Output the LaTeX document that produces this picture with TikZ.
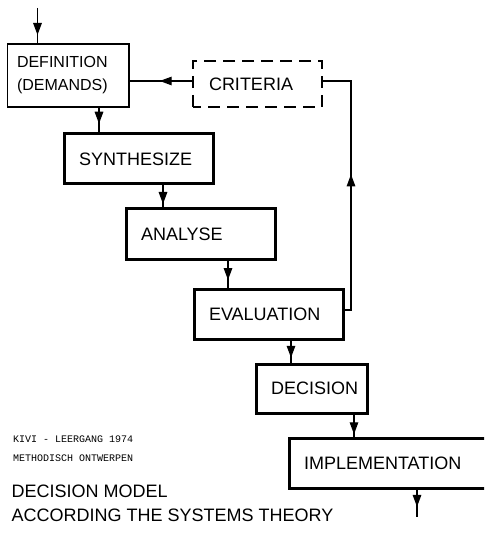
\documentclass[tikz,border=0pt]{standalone}
\usepackage{fontspec}
\setmainfont{Liberation Sans}
\newfontfamily\typewriter{Liberation Mono}
\usetikzlibrary{arrows.meta,decorations.markings}

\begin{document}
\begin{tikzpicture}[x=1pt,y=-1pt,
  box/.style={draw, rectangle, anchor=north west, outer sep=0pt,
    inner xsep=15pt, inner ysep=0pt, align=left,
    font=\fontsize{18}{21}\selectfont},
  thickbox/.style={box, line width=3pt},
  flow/.style={line width=1.4pt},
  arrowat/.style={postaction={decorate}, decoration={markings,
    mark=at position #1 with {\arrow{Triangle[length=12pt,width=8.5pt]}}}},
  caption/.style={anchor=west, inner sep=0pt, font=\fontsize{18}{21}\selectfont},
  note/.style={anchor=west, inner sep=0pt, font=\typewriter\fontsize{10}{12}\selectfont},
]
% page frame
\fill[white] (0,0) rectangle (484,534);
\useasboundingbox (0,0) rectangle (484,534);
\clip (0,0) rectangle (484,534);

% process boxes
\node[box, line width=1.8pt, inner xsep=9.5pt, text width=102.5pt,
  minimum height=63pt, font=\fontsize{16}{23}\selectfont]
  (def) at (7.5,44) {DEFINITION\\(DEMANDS)};
\node[box, line width=1.8pt, dash pattern=on 12pt off 7pt, dash phase=4pt,
  inner xsep=16pt, text width=97pt, minimum height=46pt]
  (crit) at (193,61) {CRITERIA};
\node[thickbox, text width=119pt, minimum height=50pt] (synth) at (64,134) {SYNTHESIZE};
\node[thickbox, text width=119pt, minimum height=50pt] (anal) at (126,209) {ANALYSE};
\node[thickbox, text width=119pt, minimum height=50pt] (eval) at (194,289) {EVALUATION};
\node[thickbox, text width=81pt, minimum height=49pt] (dec) at (256,364) {DECISION};
\node[thickbox, text width=181pt, minimum height=50pt] (impl) at (289,438) {IMPLEMENTATION};

% loose ends of the flow
\coordinate (in) at (37.5,8);
\coordinate (out) at (417,517);

% main flow
\draw[flow, arrowat=0.75] (in) -- (in |- def.north);
\draw[flow, arrowat=0.62] ([xshift=30.75pt]def.south) -- ([xshift=30.75pt]def.south |- synth.north);
\draw[flow, arrowat=0.8] ([xshift=24.5pt]synth.south) -- ([xshift=24.5pt]synth.south |- anal.north);
\draw[flow, arrowat=0.7] ([xshift=27.5pt]anal.south) -- ([xshift=27.5pt]anal.south |- eval.north);
\draw[flow, arrowat=0.75] ([xshift=22.5pt]eval.south) -- ([xshift=22.5pt]eval.south |- dec.north);
\draw[flow, arrowat=0.85] ([xshift=42.5pt]dec.south) -- ([xshift=42.5pt]dec.south |- impl.north);
\draw[flow, arrowat=0.65] (impl.south -| out) -- (out);

% criteria feed back into the definition
\draw[flow, arrowat=0.52] ([yshift=3pt]crit.west) -- ([yshift=3pt]crit.west -| def.east);
\draw[flow, arrowat=0.54] ([yshift=4pt]eval.east) -- ++(8,0) |- ([yshift=3pt]crit.east);

% captions
\node[note] (kivi) at (13,439) {KIVI - LEERGANG 1974};
\node[note] (course) at (13,458) {METHODISCH ONTWERPEN};
\node[caption] (title) at (11.5,491) {DECISION MODEL};
\node[caption] (subtitle) at (11.5,515) {ACCORDING THE SYSTEMS THEORY};
\end{tikzpicture}
\end{document}
